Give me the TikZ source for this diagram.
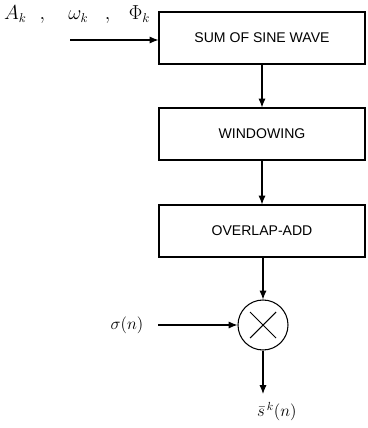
\documentclass[tikz,border=0pt]{standalone}
\usepackage{fontspec}
\setsansfont{Liberation Sans}
\usepackage{amsmath}
\usetikzlibrary{arrows.meta}

\begin{document}
\begin{tikzpicture}[x=0.03cm,y=-0.03cm,
  stage/.style={draw, line width=0.9pt, minimum width=6.18cm, minimum height=1.56cm,
    font=\sffamily\fontsize{12}{14}\selectfont},
  flow/.style={-{Latex[length=7.5pt,width=6pt]}, line width=0.9pt},
  lbl/.style={font=\fontsize{14}{16}\selectfont}]
\useasboundingbox (0,0) rectangle (367,428);
% the three processing stages
\foreach \name/\y/\txt in {sum/38/SUM OF SINE WAVE, win/134/WINDOWING, ola/231/OVERLAP-ADD}
  \node[stage] (\name) at (262,\y) {\txt};
\draw[flow] (sum) -- (win);
\draw[flow] (win) -- (ola);

% parameters feeding the first stage
\node[lbl, font=\fontsize{16}{18}\selectfont, anchor=west] (par) at (0,15)
  {$A_k\hspace{11pt},\hspace{17pt}\omega_k\hspace{14pt},\hspace{13pt}\Phi_k$};
\coordinate (parin) at (70,40);
\draw[flow] (parin) -- (parin -| sum.west);

% multiplier
\node[circle, draw, line width=0.9pt, minimum size=1.5cm, inner sep=0pt] (mult) at (263,325) {};
\draw[line width=0.9pt] (mult.center) ++(-13,-13) -- ++(26,26);
\draw[line width=0.9pt] (mult.center) ++(13,-13) -- ++(-26,26);
\draw[flow] (ola.south -| mult) -- (mult.north);

\node[lbl] (sigma) at (127,325) {$\sigma(n)$};
\coordinate (sigin) at (158,325);
\draw[flow] (sigin) -- (mult.west);

% output
\coordinate (out) at (263,394);
\draw[flow] (mult.south) -- (out);
\node[lbl, anchor=north west] (sout) at (253,398) {$\bar{s}^{\,k}(n)$};
\end{tikzpicture}
\end{document}
